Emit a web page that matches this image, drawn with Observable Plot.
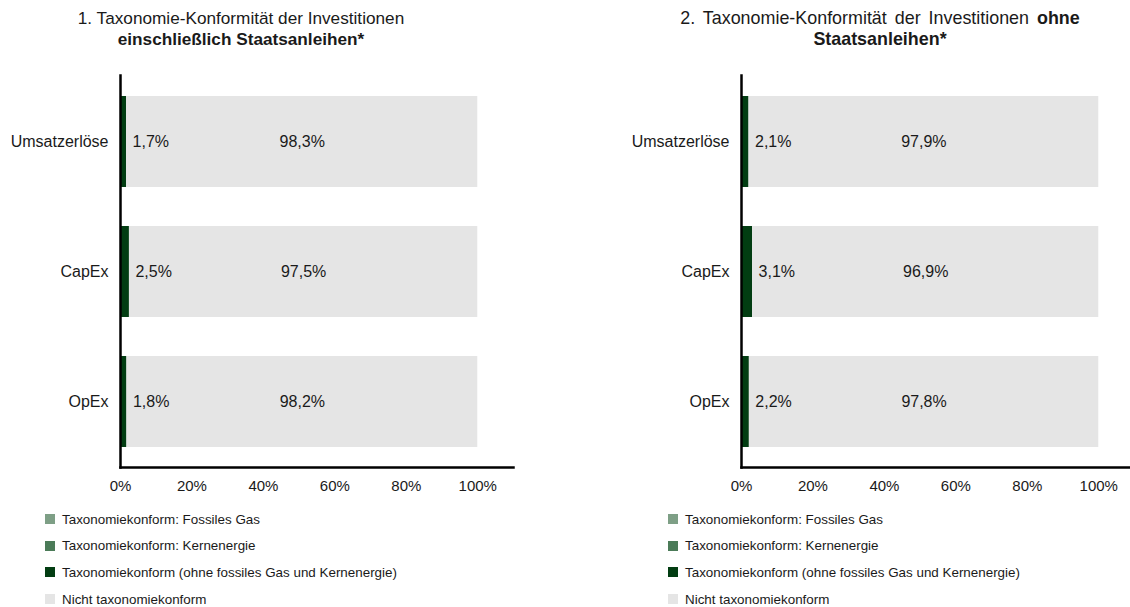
<!DOCTYPE html>
<html>
<head>
<meta charset="utf-8">
<script src="https://cdn.jsdelivr.net/npm/d3@7"></script>
<script src="https://cdn.jsdelivr.net/npm/@observablehq/plot@0.6"></script>
<style>
  html, body { margin: 0; padding: 0; background: #fff; }
  #root { position: relative; width: 1130px; height: 607px; overflow: hidden; font-family: "Liberation Sans", Arial, sans-serif; color: #1a1a1a; }
  .title { position: absolute; top: 8px; width: 520px; text-align: center; font-size: 17.2px; line-height: 21px; }
  .title.t2 { font-size: 17.9px; }
  .title.t2 .l1 { word-spacing: 3px; }
  .panel { position: absolute; top: 50px; width: 565px; }
  .panel svg { max-width: none !important; }
  .legend { position: absolute; top: 506px; font-size: 13.4px; }
  .legend .item { display: flex; align-items: center; height: 26.6px; }
  .legend .sw { width: 10px; height: 10px; margin-right: 7px; flex: none; }
</style>
</head>
<body>
<div id="root"></div>
<script>
const categories = ["Umsatzerlöse", "CapEx", "OpEx"];
const seriesNames = [
  "Taxonomiekonform: Fossiles Gas",
  "Taxonomiekonform: Kernenergie",
  "Taxonomiekonform (ohne fossiles Gas und Kernenergie)",
  "Nicht taxonomiekonform"
];
const seriesColors = ["#7e9f86", "#4b7b58", "#023d12", "#e5e5e5"];
const ticks = [0, 20, 40, 60, 80, 100];

// Panel 1: including sovereign bonds
const p1Gas = [0, 0, 0];
const p1Nuclear = [0, 0, 0];
const p1Aligned = [1.7, 2.5, 1.8];
const p1NotAligned = [98.3, 97.5, 98.2];
// Panel 2: excluding sovereign bonds
const p2Gas = [0, 0, 0];
const p2Nuclear = [0, 0, 0];
const p2Aligned = [2.1, 3.1, 2.2];
const p2NotAligned = [97.9, 96.9, 97.8];

const titles = [
  '<span class="l1">1. Taxonomie-Konformität der Investitionen</span><br><b>einschließlich Staatsanleihen*</b>',
  '<span class="l1">2. Taxonomie-Konformität der Investitionen <b>ohne</b></span><br><b>Staatsanleihen*</b>'
];

const fmt = v => v.toFixed(1).replace(".", ",") + "%";

function buildRows(gas, nuc, al, na) {
  const rows = [];
  categories.forEach((c, i) => {
    [gas[i], nuc[i], al[i], na[i]].forEach((v, k) => rows.push({cat: c, series: seriesNames[k], value: v, order: k}));
  });
  return rows;
}

function panel(gas, nuc, al, na) {
  const rows = buildRows(gas, nuc, al, na);
  const labelsDark = categories.map((c, i) => ({cat: c, x: gas[i] + nuc[i] + al[i], text: fmt(al[i])}));
  const labelsGray = categories.map((c, i) => {
    const s = gas[i] + nuc[i] + al[i];
    return {cat: c, x: (s + s + na[i]) / 2, text: fmt(na[i])};
  });
  return Plot.plot({
    width: 565,
    height: 450,
    marginLeft: 120,
    marginRight: 52,
    marginTop: 25,
    marginBottom: 33,
    style: {fontFamily: '"Liberation Sans", Arial, sans-serif', fontSize: "16px", color: "#1a1a1a", background: "transparent", maxWidth: "none"},
    x: {domain: [0, 110], ticks: ticks, tickFormat: d => d + "%", tickSize: 0, tickPadding: 13, label: null},
    y: {domain: categories, paddingInner: 0.3, paddingOuter: 0.15, tickSize: 0, tickPadding: 12, label: null},
    color: {domain: seriesNames, range: seriesColors},
    marks: [
      Plot.barX(rows, Plot.stackX({x: "value", y: "cat", fill: "series", order: "order", inset: 0})),
      Plot.text(labelsDark, {x: "x", y: "cat", text: "text", textAnchor: "start", dx: 6, fontSize: 16, fill: "#1a1a1a"}),
      Plot.text(labelsGray, {x: "x", y: "cat", text: "text", textAnchor: "middle", fontSize: 16, fill: "#1a1a1a"}),
      Plot.axisX({ticks: ticks, tickFormat: d => d + "%", tickSize: 0, tickPadding: 13, fontSize: 15, label: null}),
      Plot.axisY({tickSize: 0, tickPadding: 12, fontSize: 16, label: null}),
      Plot.frame({anchor: "bottom", stroke: "#000", strokeWidth: 2.5}),
      Plot.frame({anchor: "left", stroke: "#000", strokeWidth: 2.5})
    ]
  });
}

function legend(left) {
  const div = document.createElement("div");
  div.className = "legend";
  div.style.left = left + "px";
  seriesNames.forEach((n, k) => {
    const it = document.createElement("div");
    it.className = "item";
    const sw = document.createElement("span");
    sw.className = "sw";
    sw.style.background = seriesColors[k];
    const t = document.createElement("span");
    t.textContent = n;
    it.appendChild(sw); it.appendChild(t);
    div.appendChild(it);
  });
  return div;
}

const root = document.getElementById("root");
const panels = [
  {gas: p1Gas, nuc: p1Nuclear, al: p1Aligned, na: p1NotAligned, left: 0, titleCenter: 241, legendLeft: 45},
  {gas: p2Gas, nuc: p2Nuclear, al: p2Aligned, na: p2NotAligned, left: 621, titleCenter: 880, legendLeft: 668}
];
panels.forEach((p, i) => {
  const t = document.createElement("div");
  t.className = "title t" + (i + 1);
  t.style.left = (p.titleCenter - 260) + "px";
  t.innerHTML = titles[i];
  root.appendChild(t);
  const wrap = document.createElement("div");
  wrap.className = "panel";
  wrap.style.left = p.left + "px";
  wrap.appendChild(panel(p.gas, p.nuc, p.al, p.na));
  root.appendChild(wrap);
  root.appendChild(legend(p.legendLeft));
});
</script>
</body>
</html>
